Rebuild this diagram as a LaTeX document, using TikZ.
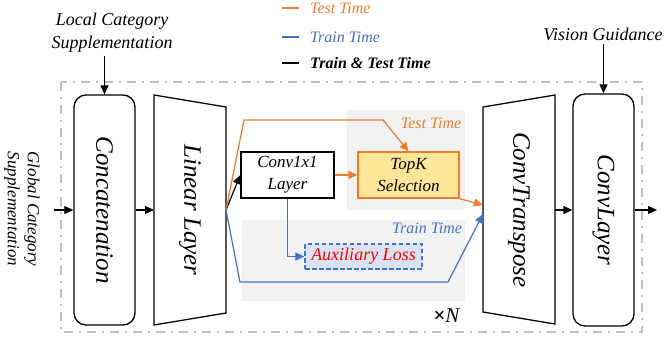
\documentclass[tikz,border=0pt]{standalone}
\usepackage{fontspec}
\setmainfont{Liberation Serif}
\usetikzlibrary{arrows.meta}
\usetikzlibrary{positioning}
\definecolor{testorange}{HTML}{ED7D31}
\definecolor{trainblue}{HTML}{4472C4}
\definecolor{panelgray}{HTML}{F2F2F2}
\definecolor{framegray}{HTML}{BFBFBF}
\definecolor{topkfill}{HTML}{FFE699}
\definecolor{auxfill}{HTML}{DAE3F3}
\tikzset{arr/.style = {line width=1.2pt, -{Triangle[length=9pt,width=8pt]}},
         oarr/.style = {arr, draw=testorange, -{Triangle[length=9pt,width=8pt,fill=testorange]}},
         barr/.style = {arr, draw=trainblue, -{Triangle[length=9pt,width=8pt,fill=trainblue]}},
         block/.style = {draw, line width=1.3pt},
         rblock/.style = {block, rounded corners=12pt, inner sep=0pt},
         biglabel/.style = {font=\fontsize{25}{30}\selectfont\itshape, inner sep=0pt},
         ann/.style = {font=\fontsize{18}{23}\selectfont\itshape, align=center},
         small/.style = {font=\fontsize{16}{18}\selectfont\itshape}}

\begin{document}
\begin{tikzpicture}[x=1pt, y=-1pt]
    \useasboundingbox (0,0) rectangle (667,337);

    % shaded regions
    \fill [panelgray] (347,110) rectangle (465,210);
    \fill [panelgray] (242,220) rectangle (465,301);
    \draw [framegray, line width=1.5pt, dash pattern=on 9pt off 6pt on 2pt off 6pt] (61,82) rectangle (642,332);

    % legend
    \foreach \y/\c/\t/\n in {8/testorange/Test Time/test, 37/trainblue/Train Time/train, 63/black/\bfseries Train \& Test Time/both} {
      \draw [\c, line width=1.3pt] (282,\y) -- (299,\y);
      \node [small, text=\c, anchor=west, inner sep=0pt] (leg-\n) at (310,\y) {\t};
    }

    % blocks
    \node [rblock, minimum width=61pt, minimum height=230pt] (concat) at (104.5,210) {\rotatebox{-90}{\fontsize{25}{30}\selectfont\itshape Concatenation}};
    \node [rblock, minimum width=61pt, minimum height=232pt] (convlayer) at (603.5,210) {\rotatebox{-90}{\fontsize{25}{30}\selectfont\itshape ConvLayer}};

    \draw [block] (154,95) -- (226,107) -- (226,313) -- (154,325) -- cycle;
    \node [biglabel] (linear) at (190,210) {\rotatebox{-90}{Linear Layer}};
    \coordinate (lin-in) at (154,210);
    \coordinate (lin-out) at (226,210);

    \draw [block] (483,107) -- (555,95) -- (555,324) -- (483,312) -- cycle;
    \node [biglabel] (convT) at (519,210) {\rotatebox{-90}{ConvTranspose}};
    \coordinate (ct-in-o) at (483,205);
    \coordinate (ct-in-b) at (483,214);
    \coordinate (ct-out) at (555,210);

    \node [block, minimum width=93pt, minimum height=46pt, align=center, font=\fontsize{17}{22}\selectfont\itshape, inner sep=0pt] (conv1) at (287.5,175) {Conv1x1\\Layer};
    \node [block, draw=testorange, fill=topkfill, minimum width=101pt, minimum height=46pt, align=center, font=\fontsize{17}{22}\selectfont\itshape, inner sep=0pt] (topk) at (408.5,175) {TopK\\Selection};
    \node [draw=trainblue, fill=auxfill, line width=1.3pt, dash pattern=on 4.5pt off 2.5pt, minimum width=117pt, minimum height=25pt, text=red, font=\fontsize{18}{22}\selectfont\itshape, inner sep=0pt] (aux) at (363.5,256.5) {Auxiliary Loss};

    \node [small, text=testorange] (testlbl) at (431,123) {Test Time};
    \node [small, text=trainblue] (trainlbl) at (427,228) {Train Time};
    \node [font=\fontsize{21}{24}\selectfont, inner sep=0pt] (times) at (447,316) {\textbf{×}\textit{N}};

    % inputs
    \node [ann] (local) at (112,33) {Local Category\\Supplementation};
    \node [ann] (vision) at (603,34) {Vision Guidance};
    \node [ann, font=\fontsize{17}{20}\selectfont\itshape, rotate=-90] (global) at (22,209) {Global Category\\Supplementation};
    \coordinate (g-in) at (54,210);
    \coordinate (out) at (657,210);

    % connectors
    \draw [arr] (concat.north |- local.south) -- (concat.north);
    \draw [arr] (convlayer.north |- vision.south) -- (convlayer.north);
    \draw [arr] (g-in) -- (concat.west |- g-in);
    \draw [arr] (concat.east) -- (lin-in);
    \draw [arr] (ct-out) -- (convlayer.west);
    \draw [arr] (convlayer.east) -- (out);
    \draw [arr] (lin-out) -- (conv1.west);

    \draw [oarr] (lin-out) -- (244,120) -- (383,120) -- (topk.north);
    \draw [oarr] (conv1.east) -- (topk.west);
    \draw [oarr] (topk.south east) -- (ct-in-o);

    \draw [barr] (lin-out) -- (240,282) -- (448,282) -- (ct-in-b);
    \draw [barr] (conv1.south) |- (aux.west);
  \end{tikzpicture}
\end{document}
